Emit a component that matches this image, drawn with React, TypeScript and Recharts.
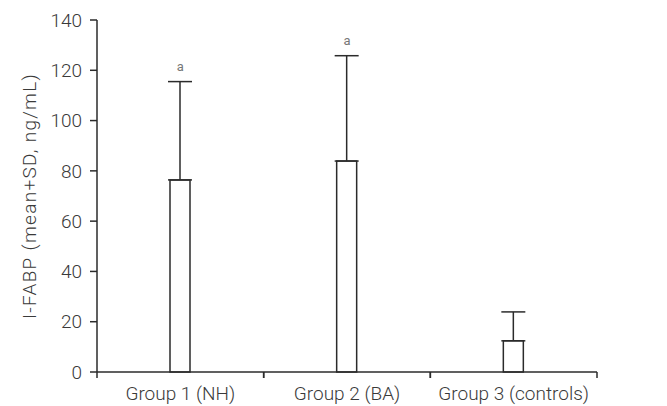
import { BarChart, Bar, XAxis, YAxis, ErrorBar, ReferenceDot } from 'recharts'

const groups = ['Group 1 (NH)', 'Group 2 (BA)', 'Group 3 (controls)']
const means = [76.4, 83.9, 12.4]
const sds = [39.1, 41.9, 11.5]
const marks = ['a', 'a', '']
const yTicks = [0, 20, 40, 60, 80, 100, 120, 140]

const data = groups.map((g, i) => ({ group: g, mean: means[i], err: [0, sds[i]] }))

const INK = '#2b2b2b'
const TEXT = '#3a3a3a'
const FONT = 'Roboto, "Liberation Sans", sans-serif'
const TICK_SIZE = 6
const TICK_MARGIN = 9

// category label in the middle, tick marks on the band edges
function GroupTick(props: any) {
  const { x, y, payload } = props
  const half = payload.offset || 0
  const y1 = y - TICK_MARGIN - TICK_SIZE
  const y2 = y - TICK_MARGIN
  return (
    <g>
      <line x1={x - half} x2={x - half} y1={y1} y2={y2} stroke={INK} strokeWidth={1.5} />
      <line x1={x + half} x2={x + half} y1={y1} y2={y2} stroke={INK} strokeWidth={1.5} />
      <text x={x} y={y} dy="0.71em" textAnchor="middle" fill={TEXT} fontSize={19} fontWeight={300} fontFamily={FONT}>
        {payload.value}
      </text>
    </g>
  )
}

export default function App() {
  return (
    <div style={{ position: 'absolute', left: 0, top: 0, width: 667, height: 406, background: '#fff' }}>
      <BarChart
        width={667}
        height={406}
        data={data}
        margin={{ top: 20, right: 70, bottom: 0, left: 0 }}
        barSize={20}
      >
        <XAxis
          dataKey="group"
          stroke={INK}
          strokeWidth={1.5}
          tickLine={false}
          tickSize={TICK_SIZE}
          tickMargin={TICK_MARGIN}
          tick={<GroupTick />}
          height={34}
        />
        <YAxis
          width={97}
          domain={[0, 140]}
          ticks={yTicks}
          stroke={INK}
          strokeWidth={1.5}
          tickSize={7}
          tickMargin={8}
          tick={{ fill: TEXT, fontSize: 19, fontWeight: 300, fontFamily: FONT }}
          label={{
            value: 'I-FABP (mean+SD, ng/mL)',
            angle: -90,
            position: 'insideLeft',
            offset: 29,
            style: { textAnchor: 'middle', fill: TEXT, fontSize: 19, fontWeight: 300, fontFamily: FONT, letterSpacing: 1.3 },
          }}
        />
        <Bar dataKey="mean" fill="#fff" stroke={INK} strokeWidth={1.5} isAnimationActive={false}>
          <ErrorBar dataKey="err" width={12} stroke={INK} strokeWidth={1.5} direction="y" />
        </Bar>
        {groups.map((g, i) =>
          marks[i] ? (
            <ReferenceDot
              key={g}
              x={g}
              y={means[i] + sds[i]}
              r={0}
              stroke="none"
              label={{ value: marks[i], position: 'top', offset: 11, fill: '#777', fontSize: 13, fontFamily: FONT }}
            />
          ) : null
        )}
      </BarChart>
    </div>
  )
}
